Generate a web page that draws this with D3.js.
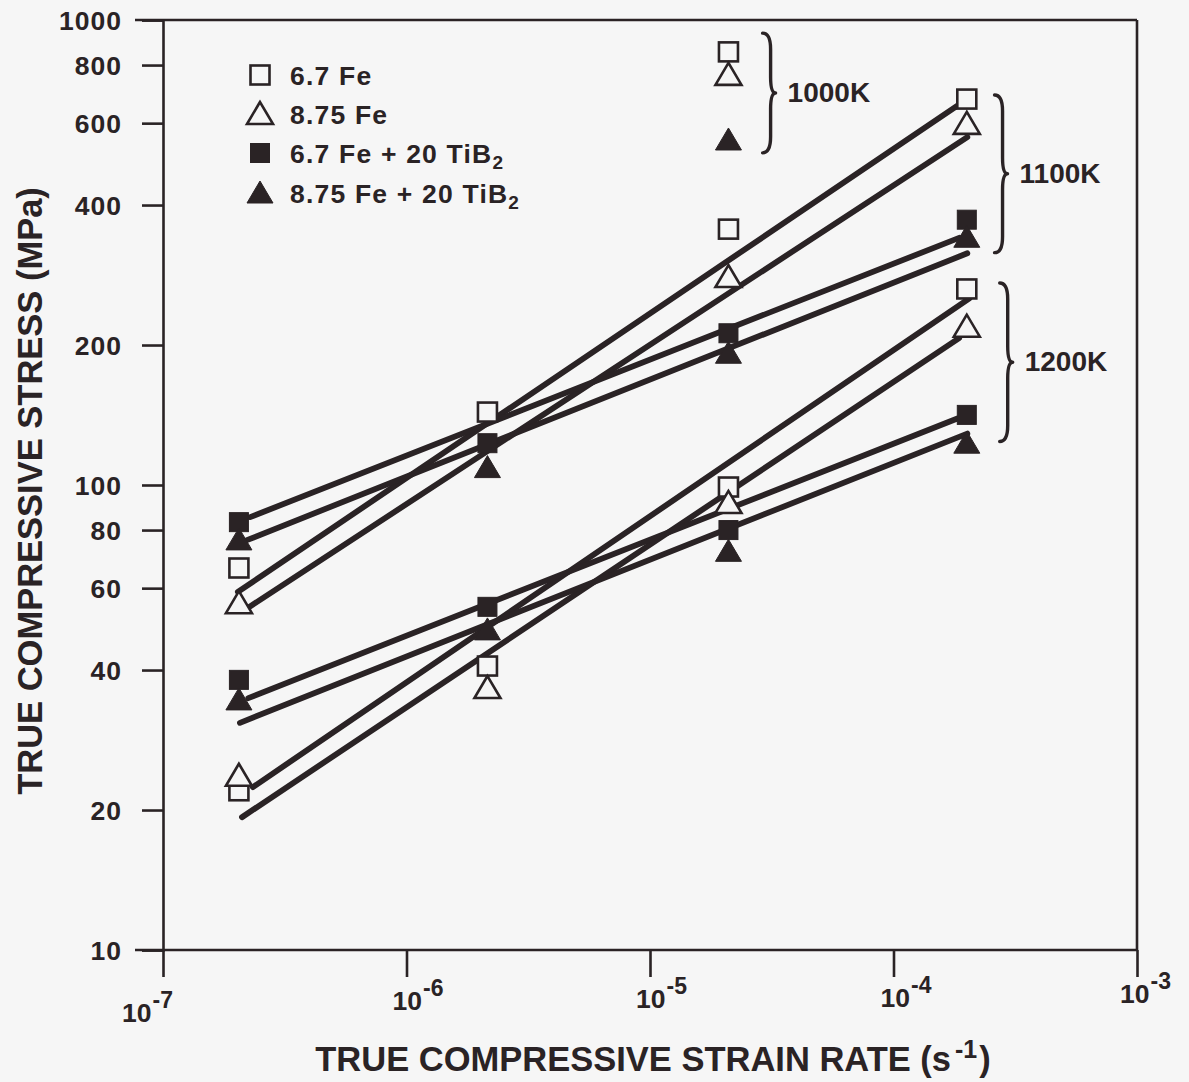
<!DOCTYPE html>
<html><head><meta charset="utf-8">
<script src="https://cdn.jsdelivr.net/npm/d3@7"></script>
<style>
html,body{margin:0;padding:0;background:#f6f6f6;}
svg{display:block;}
text{font-family:"Liberation Sans",Arial,Helvetica,sans-serif;font-weight:bold;fill:#2a2325;}
</style></head><body>
<svg id="chart" width="1189" height="1082"></svg>
<script>
// ---------------- data ----------------
const strainRates = [2.05e-7, 2.15e-6, 2.1e-5, 2.0e-4];
const seriesNames = ["6.7 Fe", "8.75 Fe", "6.7 Fe + 20 TiB", "8.75 Fe + 20 TiB"];
const seriesSub   = ["", "", "2", "2"];
const seriesSymbols = ["openSquare", "openTriangle", "filledSquare", "filledTriangle"];
const temperatures = ["1000K", "1100K", "1200K"];

// 1000K: tested at one strain rate only
const rate1000K = 2.1e-5;
const stress1000K = [854, 762, null, 552];

// 1100K, by series, at strainRates (null = hidden / not visible)
const stress1100K_67Fe      = [66.3, 143.5, 355, 676];
const stress1100K_875Fe     = [55.7, null, 280, 598];
const stress1100K_67FeTiB2  = [83.2, 123, 212, 372];
const stress1100K_875FeTiB2 = [76.2, 109, 192, 341];

// 1200K, by series, at strainRates
const stress1200K_67Fe      = [22.0, 40.8, 99, 264];
const stress1200K_875Fe     = [23.7, 36.6, 91.5, 219];
const stress1200K_67FeTiB2  = [38.1, 54.7, 80, 141.5];
const stress1200K_875FeTiB2 = [34.5, 48.8, 72, 123];

// fitted lines: [[rate0, stress0], [rate1, stress1]]
const fit1100K_67Fe      = [[2.03e-7, 58.9], [1.95e-4, 669]];
const fit1100K_875Fe     = [[2.17e-7, 53.9], [2.01e-4, 560]];
const fit1100K_67FeTiB2  = [[2.28e-7, 85.3], [1.86e-4, 340]];
const fit1100K_875FeTiB2 = [[2.21e-7, 76.1], [2.01e-4, 315]];
const fit1200K_67Fe      = [[2.34e-7, 22.4], [2.05e-4, 252]];
const fit1200K_875Fe     = [[2.11e-7, 19.3], [1.86e-4, 207]];
const fit1200K_67FeTiB2  = [[2.24e-7, 34.8], [1.83e-4, 139]];
const fit1200K_875FeTiB2 = [[2.07e-7, 30.8], [2.01e-4, 129]];

// temperature braces (data coords)
const braceRate   = [2.9e-5, 2.6e-4, 2.73e-4];
const braceTop    = [937, 690, 272];
const braceBottom = [518, 316, 124];

// axes
const yTicks = [10, 20, 40, 60, 80, 100, 200, 400, 600, 800, 1000];
const xTicks = [1e-7, 1e-6, 1e-5, 1e-4, 1e-3];
const xTickExponents = ["-7", "-6", "-5", "-4", "-3"];
const xTitle = "TRUE COMPRESSIVE STRAIN RATE (s";
const xTitleSup = "-1";
const yTitle = "TRUE COMPRESSIVE STRESS (MPa)";

// ---------------- style ----------------
const INK = "#2a2325", BG = "#f6f6f6";
const L = 163, R = 1137, T = 20, B = 950;
// label nudges (px): [dx of "10" left edge from tick, baseline y]
const xLabelNudge = [[-41, 1022], [-14, 1010], [-14, 1008], [-13, 1007], [-17, 1003]];

const svg = d3.select("#chart");
svg.append("rect").attr("width", 1189).attr("height", 1082).attr("fill", BG);

const x = d3.scaleLog().domain([1e-7, 1e-3]).range([L, R]);
const y = d3.scaleLog().domain([10, 1000]).range([B, T]);

// frame
const frame = svg.append("g").attr("stroke", INK).attr("stroke-width", 2.6).attr("fill", "none");
frame.append("line").attr("x1", 135).attr("x2", R).attr("y1", y(1000)).attr("y2", y(1000));
frame.append("line").attr("x1", 135).attr("x2", R).attr("y1", y(10)).attr("y2", y(10));
frame.append("line").attr("x1", R).attr("x2", R).attr("y1", T).attr("y2", B);

// y axis
const yAxis = svg.append("g").attr("transform", `translate(${L},0)`)
  .call(d3.axisLeft(y).tickValues(yTicks).tickSize(21).tickPadding(20).tickFormat(d3.format("d")));
yAxis.select(".domain").attr("stroke", INK).attr("stroke-width", 2.6);
yAxis.selectAll(".tick line").attr("stroke", INK).attr("stroke-width", 2.6);
yAxis.selectAll(".tick text").attr("fill", INK).attr("font-size", 26.5)
  .attr("font-family", "Liberation Sans, Arial, sans-serif").attr("font-weight", "bold")
  .attr("letter-spacing", 1).attr("dy", "0.35em");

// x axis
const xAxis = svg.append("g").attr("transform", `translate(0,${B})`)
  .call(d3.axisBottom(x).tickValues(xTicks).tickSize(27).tickFormat(() => ""));
xAxis.select(".domain").remove();
xAxis.selectAll(".tick line").attr("stroke", INK).attr("stroke-width", 2.6);
xAxis.selectAll(".tick text").remove();
xTicks.forEach((v, i) => {
  const t = svg.append("text").attr("x", x(v) + xLabelNudge[i][0]).attr("y", xLabelNudge[i][1])
    .attr("font-size", 26.5);
  t.append("tspan").text("10");
  t.append("tspan").attr("dy", -14).attr("dx", 1).attr("font-size", 23).text(xTickExponents[i]);
});

// axis titles
const xt = svg.append("text").attr("x", 653).attr("y", 1071).attr("text-anchor", "middle").attr("font-size", 34.5);
xt.append("tspan").text(xTitle);
xt.append("tspan").attr("dy", -13).attr("dx", 4).attr("font-size", 25).text(xTitleSup);
xt.append("tspan").attr("dy", 13).attr("dx", 2).text(")");

svg.append("text").attr("transform", "translate(42,491) rotate(-90)")
  .attr("text-anchor", "middle").attr("font-size", 34.5).text(yTitle);

// fitted lines
const fits = [fit1100K_67Fe, fit1100K_875Fe, fit1100K_67FeTiB2, fit1100K_875FeTiB2,
              fit1200K_67Fe, fit1200K_875Fe, fit1200K_67FeTiB2, fit1200K_875FeTiB2];
const line = d3.line().x(d => x(d[0])).y(d => y(d[1]));
svg.append("g").selectAll("path").data(fits).join("path")
  .attr("d", line).attr("fill", "none").attr("stroke", INK)
  .attr("stroke-width", 5.8).attr("stroke-linecap", "round");

// points
const points = [];
stress1000K.forEach((v, si) => { if (v != null) points.push({ temp: "1000K", si, rate: rate1000K, stress: v }); });
[stress1100K_67Fe, stress1100K_875Fe, stress1100K_67FeTiB2, stress1100K_875FeTiB2].forEach((arr, si) =>
  arr.forEach((v, i) => { if (v != null) points.push({ temp: "1100K", si, rate: strainRates[i], stress: v }); }));
[stress1200K_67Fe, stress1200K_875Fe, stress1200K_67FeTiB2, stress1200K_875FeTiB2].forEach((arr, si) =>
  arr.forEach((v, i) => { if (v != null) points.push({ temp: "1200K", si, rate: strainRates[i], stress: v }); }));
points.sort((a, b) => a.si - b.si);

function drawSymbol(g, kind, cx, cy) {
  const open = kind.startsWith("open");
  const fill = open ? BG : INK;
  if (kind.endsWith("Square")) {
    g.append("rect").attr("x", cx - 9.5).attr("y", cy - 9.5).attr("width", 19).attr("height", 19)
      .attr("fill", fill).attr("stroke", INK).attr("stroke-width", open ? 2.6 : 1);
  } else {
    g.append("path").attr("d", `M${cx},${cy - 12}L${cx - 13},${cy + 10}L${cx + 13},${cy + 10}Z`)
      .attr("fill", fill).attr("stroke", INK).attr("stroke-width", open ? 2.6 : 1).attr("stroke-linejoin", "miter");
  }
}
const pg = svg.append("g");
points.forEach(p => drawSymbol(pg, seriesSymbols[p.si], x(p.rate), y(p.stress)));

// braces + temperature labels
temperatures.forEach((t, i) => {
  const x0 = x(braceRate[i]), yt = y(braceTop[i]), yb = y(braceBottom[i]), ym = (yt + yb) / 2;
  const w = 8, tip = 5, r = 16;
  const d = `M${x0},${yt} Q${x0 + w},${yt} ${x0 + w},${yt + r} L${x0 + w},${ym - r} ` +
            `Q${x0 + w},${ym} ${x0 + w + tip},${ym} Q${x0 + w},${ym} ${x0 + w},${ym + r} ` +
            `L${x0 + w},${yb - r} Q${x0 + w},${yb} ${x0},${yb}`;
  svg.append("path").attr("d", d).attr("fill", "none").attr("stroke", INK)
    .attr("stroke-width", 3.4).attr("stroke-linecap", "round").attr("stroke-linejoin", "round");
  svg.append("text").attr("x", x0 + 25).attr("y", ym + 9).attr("font-size", 28).text(t);
});

// legend
const legRows = [75, 114, 153, 193];
seriesNames.forEach((n, i) => {
  drawSymbol(svg, seriesSymbols[i], 260, legRows[i]);
  const t = svg.append("text").attr("x", 290).attr("y", legRows[i] + 9.5).attr("font-size", 26.5).attr("letter-spacing", 1.2);
  t.append("tspan").text(n);
  if (seriesSub[i]) t.append("tspan").attr("dy", 6).attr("font-size", 19).text(seriesSub[i]);
});
</script>
</body></html>
